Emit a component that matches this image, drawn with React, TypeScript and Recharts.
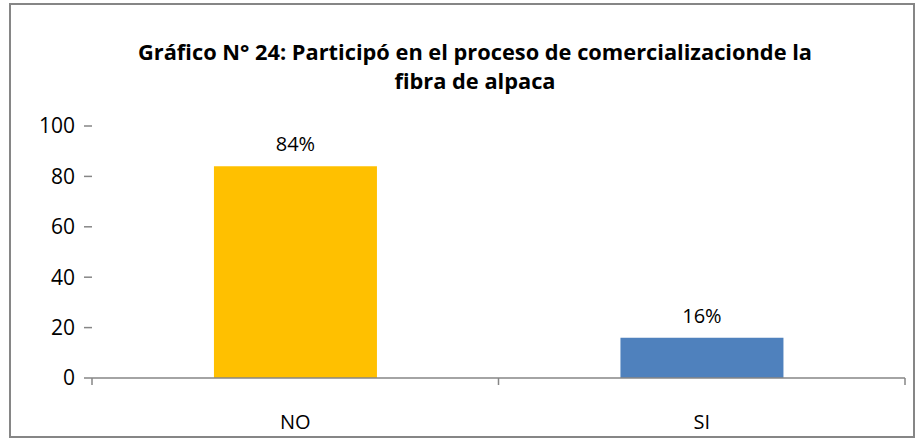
import React from 'react';
import { BarChart, Bar, XAxis, YAxis, Cell, LabelList } from 'recharts';

const categories = ['NO', 'SI'];
const values = [84, 16];
const barColors = ['#FFC000', '#4F81BD'];
const yTicks = [0, 20, 40, 60, 80, 100];
const titleLines = ['Gráfico N° 24: Participó en el proceso de comercializacionde la', 'fibra de alpaca'];

const data = categories.map((c, i) => ({ name: c, value: values[i] }));

const FONT = '"Open Sans", "Liberation Sans", sans-serif';
const AXIS_GRAY = '#868686';

const XTick = (props: any) => {
  const { x, y, payload, index, visibleTicksCount } = props;
  const off = payload && payload.offset ? payload.offset : 0;
  const isLast = index === visibleTicksCount - 1;
  return (
    <g>
      <line x1={x - off} x2={x - off} y1={y} y2={y + 7} stroke={AXIS_GRAY} strokeWidth={1.5} />
      {isLast && <line x1={x + off} x2={x + off} y1={y} y2={y + 7} stroke={AXIS_GRAY} strokeWidth={1.5} />}
      <text x={x} y={y + 51} textAnchor="middle" fill="#000" fontSize={20} fontFamily={FONT}>
        {payload.value}
      </text>
    </g>
  );
};

export default function App() {
  return (
    <div style={{ position: 'absolute', left: 0, top: 0, width: 920, height: 441, background: '#fff' }}>
      <div
        style={{
          position: 'absolute',
          left: 9,
          top: 3,
          width: 906,
          height: 435,
          border: `2px solid ${AXIS_GRAY}`,
          boxSizing: 'border-box',
        }}
      />
      {titleLines.map((t, i) => (
        <div
          key={i}
          style={{
            position: 'absolute',
            left: 275,
            width: 400,
            top: 37 + i * 29,
            whiteSpace: 'nowrap',
            display: 'flex',
            justifyContent: 'center',
            fontFamily: FONT,
            fontWeight: 700,
            fontSize: 21.8,
            lineHeight: '30px',
            color: '#000',
          }}
        >
          {t}
        </div>
      ))}
      <div style={{ position: 'absolute', left: 0, top: 0 }}>
        <BarChart
          width={920}
          height={441}
          data={data}
          margin={{ top: 126, right: 15, bottom: 0, left: 0 }}
          barCategoryGap="30%"
        >
          <XAxis
            dataKey="name"
            height={63}
            axisLine={{ stroke: AXIS_GRAY, strokeWidth: 1.5 }}
            tickLine={false}
            tickSize={0}
            tickMargin={0}
            tick={<XTick />}
            interval={0}
          />
          <YAxis
            width={92}
            domain={[0, 100]}
            ticks={yTicks}
            axisLine={false}
            tickLine={{ stroke: AXIS_GRAY, strokeWidth: 1.5 }}
            tickSize={8}
            tickMargin={9}
            tick={{ fill: '#000', fontSize: 21, fontFamily: FONT }}
          />
          <Bar dataKey="value" isAnimationActive={false}>
            {data.map((d, i) => (
              <Cell key={d.name} fill={barColors[i]} />
            ))}
            <LabelList
              dataKey="value"
              position="top"
              offset={15}
              formatter={(v: any) => `${v}%`}
              fill="#000"
              fontSize={20}
              fontFamily={FONT}
            />
          </Bar>
        </BarChart>
      </div>
    </div>
  );
}
